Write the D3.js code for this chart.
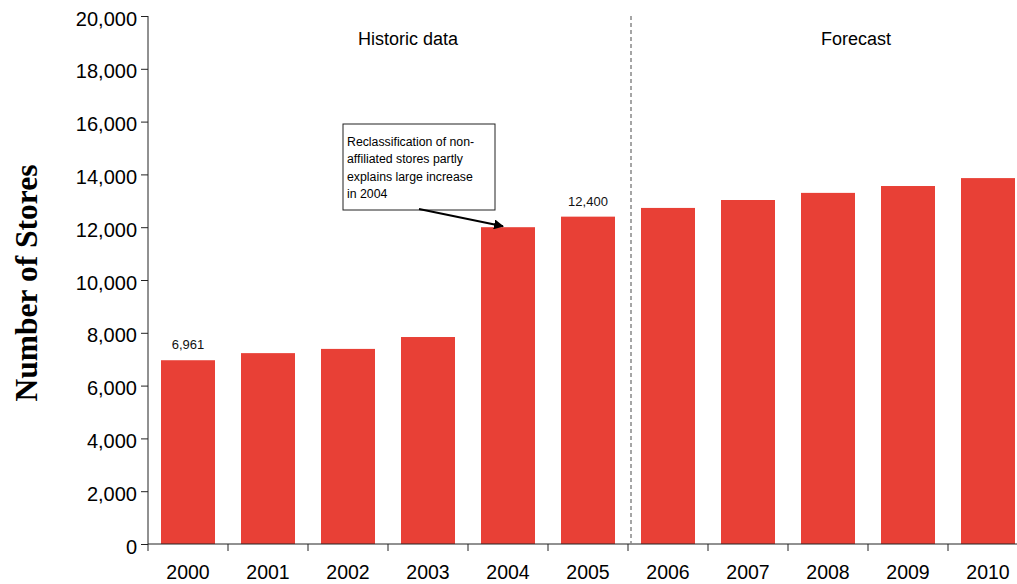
<!DOCTYPE html>
<html>
<head>
<meta charset="utf-8">
<script src="https://cdn.jsdelivr.net/npm/d3@7"></script>
<style>
  body { margin: 0; background: #fff; }
  svg { display: block; font-family: Arial, "Liberation Sans", sans-serif; }
</style>
</head>
<body>
<svg id="chart" width="1017" height="584"></svg>
<script>
// data
const years = ['2000', '2001', '2002', '2003', '2004', '2005', '2006', '2007', '2008', '2009', '2010'];
const stores = [6961, 7230, 7390, 7840, 12000, 12400, 12730, 13030, 13300, 13560, 13860];
const yTicks = [0, 2000, 4000, 6000, 8000, 10000, 12000, 14000, 16000, 18000, 20000];
const labelled = { '2000': '6,961', '2005': '12,400' };
const noteLines = ['Reclassification of non-', 'affiliated stores partly', 'explains large increase', 'in 2004'];

const margin = { top: 16, left: 148 };
const plotH = 528;

const svg = d3.select('#chart');

const x = d3.scaleBand()
  .domain(years)
  .range([margin.left, margin.left + 80 * years.length])
  .paddingInner(0.325)
  .paddingOuter(0.1625);

const y = d3.scaleLinear()
  .domain([0, 20000])
  .range([margin.top + plotH, margin.top]);

// bars
svg.selectAll('rect.bar')
  .data(years)
  .enter()
  .append('rect')
  .attr('class', 'bar')
  .attr('x', d => x(d))
  .attr('width', x.bandwidth())
  .attr('y', (d, i) => y(stores[i]))
  .attr('height', (d, i) => y(0) - y(stores[i]))
  .attr('fill', '#e84036');

// value labels over 2000 and 2005
svg.selectAll('text.val')
  .data(years.filter(d => labelled[d]))
  .enter()
  .append('text')
  .attr('class', 'val')
  .attr('x', d => x(d) + x.bandwidth() / 2)
  .attr('y', d => y(stores[years.indexOf(d)]) - 11)
  .attr('text-anchor', 'middle')
  .attr('font-size', 13)
  .attr('fill', '#111')
  .text(d => labelled[d]);

// y axis
const yAxis = svg.append('g')
  .attr('transform', 'translate(' + margin.left + ',0)')
  .call(d3.axisLeft(y).tickValues(yTicks).tickSize(7).tickPadding(4).tickFormat(d3.format(',')));
yAxis.selectAll('text')
  .attr('font-size', 20)
  .attr('dy', '0.45em')
  .attr('fill', '#000')
  .attr('font-family', 'Arial, "Liberation Sans", sans-serif');
yAxis.selectAll('line, path').attr('stroke', '#222');
yAxis.select('.domain').attr('d', 'M0,' + y(20000) + 'V' + y(0));

// x axis: ticks sit between the bands
const xAxis = svg.append('g')
  .attr('transform', 'translate(0,' + y(0) + ')');
xAxis.append('line')
  .attr('x1', margin.left).attr('x2', 1017)
  .attr('stroke', '#222');
xAxis.selectAll('line.tick')
  .data(years)
  .enter()
  .append('line')
  .attr('class', 'tick')
  .attr('x1', d => x(d) - x.step() * x.paddingOuter())
  .attr('x2', d => x(d) - x.step() * x.paddingOuter())
  .attr('y1', 0).attr('y2', 7)
  .attr('stroke', '#222');
xAxis.selectAll('text')
  .data(years)
  .enter()
  .append('text')
  .attr('x', d => x(d) + x.bandwidth() / 2)
  .attr('y', 35)
  .attr('text-anchor', 'middle')
  .attr('font-size', 19.5)
  .attr('fill', '#000')
  .text(d => d);

// y axis title
svg.append('text')
  .attr('transform', 'translate(37,283) rotate(-90)')
  .attr('text-anchor', 'middle')
  .attr('font-family', '"Times New Roman", "Liberation Serif", serif')
  .attr('font-weight', 'bold')
  .attr('font-size', 31.5)
  .text('Number of Stores');

// dashed divider between historic and forecast
const divX = x('2006') - x.step() * x.paddingOuter() + 3;
svg.append('line')
  .attr('x1', divX).attr('x2', divX)
  .attr('y1', y(20000)).attr('y2', y(0))
  .attr('stroke', '#888')
  .attr('stroke-width', 1.5)
  .attr('stroke-dasharray', '4,3');

svg.append('text')
  .attr('x', 408).attr('y', 45)
  .attr('text-anchor', 'middle')
  .attr('font-size', 18)
  .text('Historic data');
svg.append('text')
  .attr('x', 856).attr('y', 45)
  .attr('text-anchor', 'middle')
  .attr('font-size', 18)
  .text('Forecast');

// annotation box + arrow
svg.append('defs').append('marker')
  .attr('id', 'arrow')
  .attr('viewBox', '0 0 10 10')
  .attr('refX', 9).attr('refY', 5)
  .attr('markerWidth', 5).attr('markerHeight', 5)
  .attr('orient', 'auto')
  .append('path')
  .attr('d', 'M0,0L10,5L0,10z')
  .attr('fill', '#000');

svg.append('rect')
  .attr('x', 343).attr('y', 124)
  .attr('width', 152).attr('height', 86)
  .attr('fill', '#fff')
  .attr('stroke', '#222');

svg.append('g').selectAll('text')
  .data(noteLines)
  .enter()
  .append('text')
  .attr('x', 347)
  .attr('y', (d, i) => 146 + i * 17.3)
  .attr('font-size', 12.3)
  .attr('fill', '#000')
  .text(d => d);

svg.append('line')
  .attr('x1', 419).attr('y1', 209)
  .attr('x2', x('2004') + 22).attr('y2', y(12000) - 1)
  .attr('stroke', '#000')
  .attr('stroke-width', 2)
  .attr('marker-end', 'url(#arrow)');
</script>
</body>
</html>
